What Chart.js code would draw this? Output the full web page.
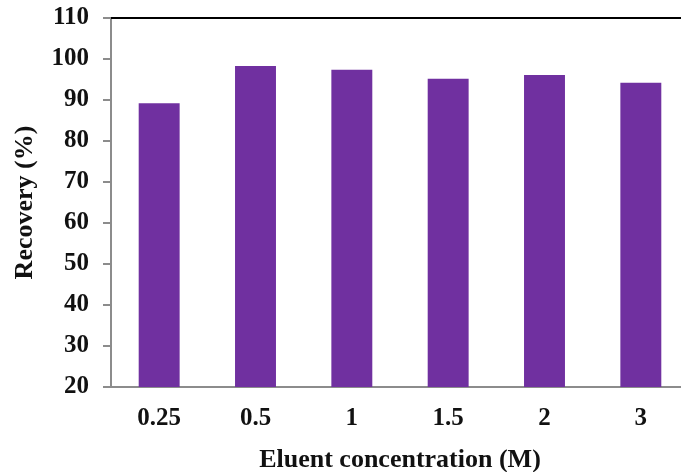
<!DOCTYPE html>
<html>
<head>
<meta charset="utf-8">
<script src="https://cdn.jsdelivr.net/npm/chart.js@4/dist/chart.umd.min.js"></script>
<style>
html,body{margin:0;padding:0;background:#fff;overflow:hidden;width:681px;height:472px;}
#wrap{position:absolute;left:0;top:0;width:690px;height:476px;}
</style>
</head>
<body>
<div id="wrap"><canvas id="c" width="690" height="476"></canvas></div>
<script>
const categories = ["0.25", "0.5", "1", "1.5", "2", "3"];
const recovery = [89.2, 98.3, 97.4, 95.2, 96.1, 94.2];
const yTicks = [20, 30, 40, 50, 60, 70, 80, 90, 100, 110];

const FONT = "'Liberation Serif', 'Times New Roman', serif";

const topLine = {
  id: 'topLine',
  afterDraw(chart) {
    const {ctx, chartArea} = chart;
    ctx.save();
    ctx.strokeStyle = '#000';
    ctx.lineWidth = 2;
    ctx.beginPath();
    ctx.moveTo(chartArea.left, chartArea.top);
    ctx.lineTo(chart.width, chartArea.top);
    ctx.stroke();
    ctx.restore();
  }
};

new Chart(document.getElementById('c'), {
  type: 'bar',
  data: {
    labels: categories,
    datasets: [{
      data: recovery,
      backgroundColor: '#7030A0',
      borderWidth: 0,
      categoryPercentage: 1,
      barPercentage: 0.425
    }]
  },
  options: {
    responsive: false,
    animation: false,
    devicePixelRatio: 1,
    layout: {padding: {left: 0, right: 1, top: 18, bottom: 0}},
    plugins: {legend: {display: false}, tooltip: {enabled: false}},
    scales: {
      x: {
        grid: {display: false, drawTicks: false},
        border: {display: true, color: '#8c8c8c', width: 2},
        ticks: {color: '#111', font: {family: FONT, size: 25, weight: 'bold'}, padding: 17},
        title: {display: true, text: 'Eluent concentration (M)', color: '#111',
                font: {family: FONT, size: 26, weight: 'bold'}, padding: {top: 0, bottom: 0}},
        afterFit: s => { s.height = 89; s.paddingLeft = 0; s.paddingRight = 0; }
      },
      y: {
        min: 20, max: 110,
        afterBuildTicks: s => { s.ticks = yTicks.map(v => ({value: v})); },
        grid: {drawOnChartArea: false, color: '#8c8c8c', lineWidth: 2, tickLength: 8},
        border: {display: true, color: '#8c8c8c', width: 2},
        ticks: {color: '#111', font: {family: FONT, size: 25, weight: 'bold'}, padding: 14},
        title: {display: true, text: 'Recovery (%)', color: '#111',
                font: {family: FONT, size: 26, weight: 'bold'}, padding: {top: 10, bottom: 0}},
        afterFit: s => { s.width = 111; s.paddingTop = 0; s.paddingBottom = 0; }
      }
    }
  },
  plugins: [topLine]
});
</script>
</body>
</html>
